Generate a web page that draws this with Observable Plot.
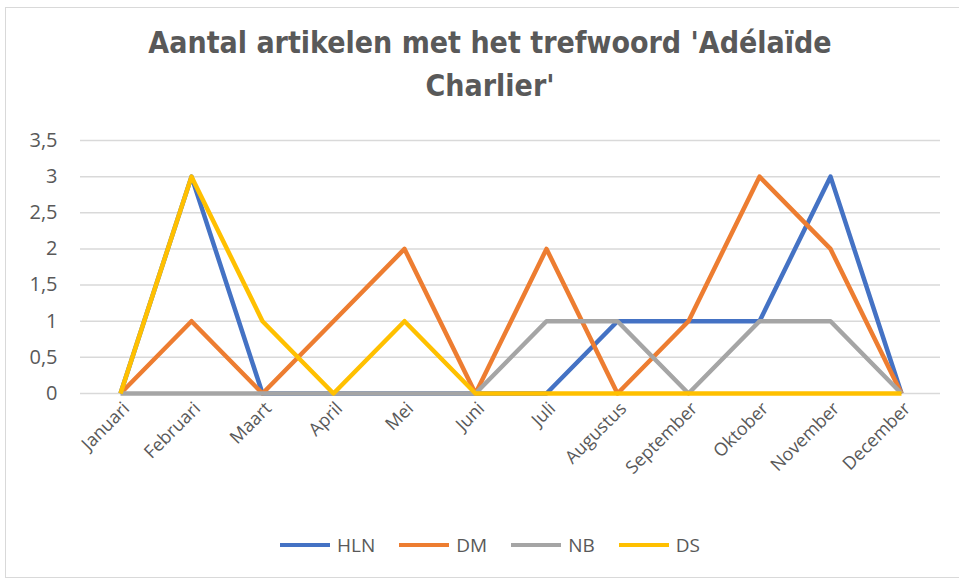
<!DOCTYPE html>
<html><head><meta charset="utf-8">
<script src="https://cdn.jsdelivr.net/npm/d3@7"></script>
<script src="https://cdn.jsdelivr.net/npm/@observablehq/plot@0.6"></script>
<style>
body{margin:0;background:#fff;width:959px;height:581px;overflow:hidden;position:relative;font-family:"Open Sans",sans-serif;}
#frame{position:absolute;left:5px;top:7px;width:980px;height:571px;border:1.5px solid #d9d9d9;box-sizing:border-box;}
#title{position:absolute;left:40px;width:900px;top:21px;text-align:center;font-family:"DejaVu Sans Condensed","DejaVu Sans",sans-serif;font-stretch:condensed;font-weight:bold;font-size:30px;line-height:43px;color:#595959;}
#chart{position:absolute;left:5px;top:125px;}
#chart svg text{fill:#595959;}
#chart g.yax text{font-size:20px;}
#chart g.xax text{font-size:18px;}
#legend{position:absolute;left:90px;width:800px;top:532px;display:flex;justify-content:center;align-items:center;font-size:19px;color:#595959;}
.item{display:flex;align-items:center;margin:0 12px;}
.sw{display:inline-block;width:50px;height:4px;margin-right:7px;}
</style></head>
<body>
<div id="frame"></div>
<div id="title">Aantal artikelen met het trefwoord 'Adélaïde<br>Charlier'</div>
<div id="chart"></div>
<div id="legend"></div>
<script>
const months = ["Januari","Februari","Maart","April","Mei","Juni","Juli","Augustus","September","Oktober","November","December"];
const seriesNames = ["HLN","DM","NB","DS"];
const seriesColors = ["#4472C4","#ED7D31","#A5A5A5","#FFC000"];
const HLN = [0,3,0,0,0,0,0,1,1,1,3,0];
const DM  = [0,1,0,1,2,0,2,0,1,3,2,0];
const NB  = [0,0,0,0,0,0,1,1,0,1,1,0];
const DS  = [0,3,1,0,1,0,0,0,0,0,0,0];
const yTicks = [0,0.5,1,1.5,2,2.5,3,3.5];

const values = {HLN, DM, NB, DS};
const rows = seriesNames.flatMap(s => months.map((m,i) => ({series:s, month:m, value:values[s][i]})));

const chart = Plot.plot({
  width: 945,
  height: 395,
  marginLeft: 75,
  marginRight: 10,
  marginTop: 15,
  marginBottom: 127,
  style: {fontFamily:"'Open Sans',sans-serif", fontSize:"18px", color:"#595959", background:"transparent"},
  x: {type:"point", domain: months, padding:0.5, label:null},
  y: {domain:[0,3.5], label:null},
  color: {domain: seriesNames, range: seriesColors},
  marks: [
    Plot.gridY(yTicks, {stroke:"#d9d9d9", strokeOpacity:1, strokeWidth:1.5}),
    Plot.axisY(yTicks, {tickSize:0, tickPadding:23, className:"yax", tickFormat: d => String(d).replace(".", ","), label:null}),
    Plot.axisX({tickSize:0, tickRotate:-45, tickPadding:12, dx:6, className:"xax", label:null}),
    Plot.line(rows, {x:"month", y:"value", z:"series", stroke:"series", strokeWidth:4.5, strokeLinejoin:"round", strokeLinecap:"butt"})
  ]
});
document.getElementById("chart").appendChild(chart);

const lg = document.getElementById("legend");
seriesNames.forEach((s,i) => {
  const it = document.createElement("div"); it.className = "item";
  const sw = document.createElement("span"); sw.className = "sw"; sw.style.background = seriesColors[i];
  const tx = document.createElement("span"); tx.textContent = s;
  it.appendChild(sw); it.appendChild(tx); lg.appendChild(it);
});
</script>
</body></html>
